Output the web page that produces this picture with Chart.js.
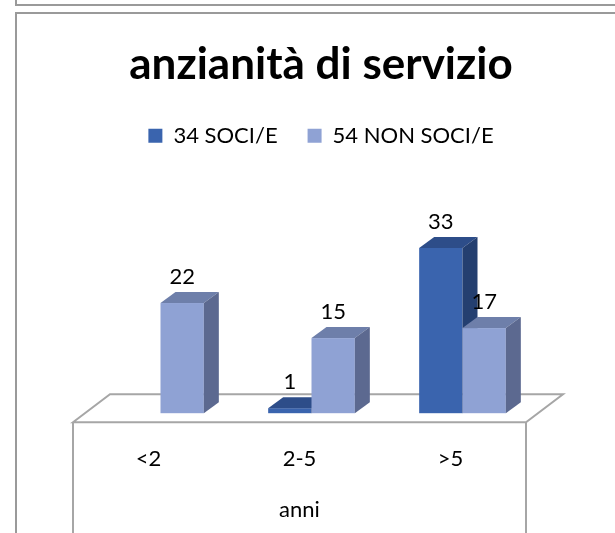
<!DOCTYPE html>
<html>

<head>
  <script src="https://cdn.jsdelivr.net/npm/chart.js@4.4.0/dist/chart.umd.min.js"></script>
  <style>
    body { margin: 0; background: #fff; overflow: hidden; }
    .frame { position: absolute; border: 2px solid #9a9a9a; box-sizing: border-box; }
    #wrap { position: absolute; left: 0; top: 0; width: 615px; height: 533px; }
  </style>
</head>

<body>
  <div class="frame" style="left:15px; top:-20px; width:640px; height:26px;"></div>
  <div class="frame" style="left:15px; top:12px; width:640px; height:560px;"></div>
  <div id="wrap">
    <canvas id="myChart" width="615" height="533"></canvas>
  </div>
  <script type="text/javascript">
    // data
    var categories = ['<2', '2-5', '>5'];
    var soci = [0, 1, 33];
    var nonSoci = [22, 15, 17];
    var seriesNames = ['34 SOCI/E', '54 NON SOCI/E'];

    var FONT = 'Lato';

    // colours: front, top, side
    var shades = [
      ['#3a64ae', '#2d4d89', '#243f70'],
      ['#8fa2d4', '#6e7faa', '#5c6990']
    ];

    // 3d look: floor + bar faces, drawn from the bar elements
    var bar3d = {
      id: 'bar3d',
      beforeDatasetsDraw: function(chart) {
        var ctx = chart.ctx;
        var a = chart.chartArea;
        ctx.save();
        // floor
        ctx.strokeStyle = '#a6a6a6';
        ctx.lineWidth = 2;
        ctx.beginPath();
        ctx.moveTo(a.left, a.bottom);
        ctx.lineTo(a.left + 37, a.bottom - 28);
        ctx.lineTo(a.right + 37, a.bottom - 28);
        ctx.lineTo(a.right, a.bottom);
        ctx.closePath();
        ctx.moveTo(a.left, a.bottom);
        ctx.lineTo(a.left, chart.height);
        ctx.moveTo(a.right, a.bottom);
        ctx.lineTo(a.right, chart.height);
        ctx.stroke();

        ctx.translate(12, -9);
        var dx = 15, dy = 11;
        var labels = [];
        chart.data.datasets.forEach(function(ds, i) {
          var meta = chart.getDatasetMeta(i);
          var c = shades[i];
          meta.data.forEach(function(bar, j) {
            var v = ds.data[j];
            if (!v) return;
            var x0 = bar.x - bar.width / 2, x1 = bar.x + bar.width / 2;
            var top = bar.y, base = bar.base;
            ctx.fillStyle = c[0];
            ctx.fillRect(x0, top, x1 - x0, base - top);
            ctx.fillStyle = c[1];
            ctx.beginPath();
            ctx.moveTo(x0, top);
            ctx.lineTo(x0 + dx, top - dy);
            ctx.lineTo(x1 + dx, top - dy);
            ctx.lineTo(x1, top);
            ctx.closePath();
            ctx.fill();
            ctx.fillStyle = c[2];
            ctx.beginPath();
            ctx.moveTo(x1, top);
            ctx.lineTo(x1 + dx, top - dy);
            ctx.lineTo(x1 + dx, base - dy);
            ctx.lineTo(x1, base);
            ctx.closePath();
            ctx.fill();
            labels.push([v, bar.x, top - 26]);
          });
        });
        ctx.fillStyle = '#000';
        ctx.font = '22px ' + FONT;
        ctx.textAlign = 'center';
        ctx.textBaseline = 'middle';
        labels.forEach(function(l) {
          ctx.fillText(String(l[0]), l[1], l[2]);
        });
        ctx.restore();
        return false;
      }
    };

    var ctx = document.getElementById('myChart').getContext('2d');
    var chart = new Chart(ctx, {
      type: 'bar',
      data: {
        labels: categories,
        datasets: [{
            label: seriesNames[0],
            backgroundColor: shades[0][0],
            data: soci,
            categoryPercentage: 0.574,
            barPercentage: 1
          },
          {
            label: seriesNames[1],
            backgroundColor: shades[1][0],
            data: nonSoci,
            categoryPercentage: 0.574,
            barPercentage: 1
          }
        ]
      },
      plugins: [bar3d],
      options: {
        responsive: false,
        animation: false,
        devicePixelRatio: 1,
        layout: {
          padding: { left: 27, right: 0, top: 0, bottom: 0 }
        },
        plugins: {
          tooltip: { enabled: false },
          title: {
            display: true,
            text: 'anzianità di servizio',
            color: '#000',
            font: { family: FONT, size: 44, weight: 'bold' },
            padding: { top: 38, bottom: 4 }
          },
          legend: {
            position: 'top',
            labels: {
              color: '#000',
              font: { family: FONT, size: 22 },
              boxWidth: 14,
              boxHeight: 14,
              padding: 30
            }
          }
        },
        scales: {
          x: {
            grid: { display: false, drawTicks: false },
            border: { display: false },
            ticks: { color: '#000', font: { family: FONT, size: 22 }, padding: 24 },
            title: {
              display: true,
              text: 'anni',
              color: '#000',
              font: { family: FONT, size: 22 },
              padding: { top: 0, bottom: 10 }
            }
          },
          y: {
            min: 0,
            max: 53,
            position: 'left',
            grid: { display: false, drawTicks: false },
            border: { display: false },
            ticks: { display: false },
            afterFit: function(s) { s.width = 46; }
          },
          yr: {
            min: 0,
            max: 53,
            position: 'right',
            grid: { display: false, drawTicks: false },
            border: { display: false },
            ticks: { display: false },
            afterFit: function(s) { s.width = 89; }
          }
        }
      }
    });
  </script>
</body>

</html>
